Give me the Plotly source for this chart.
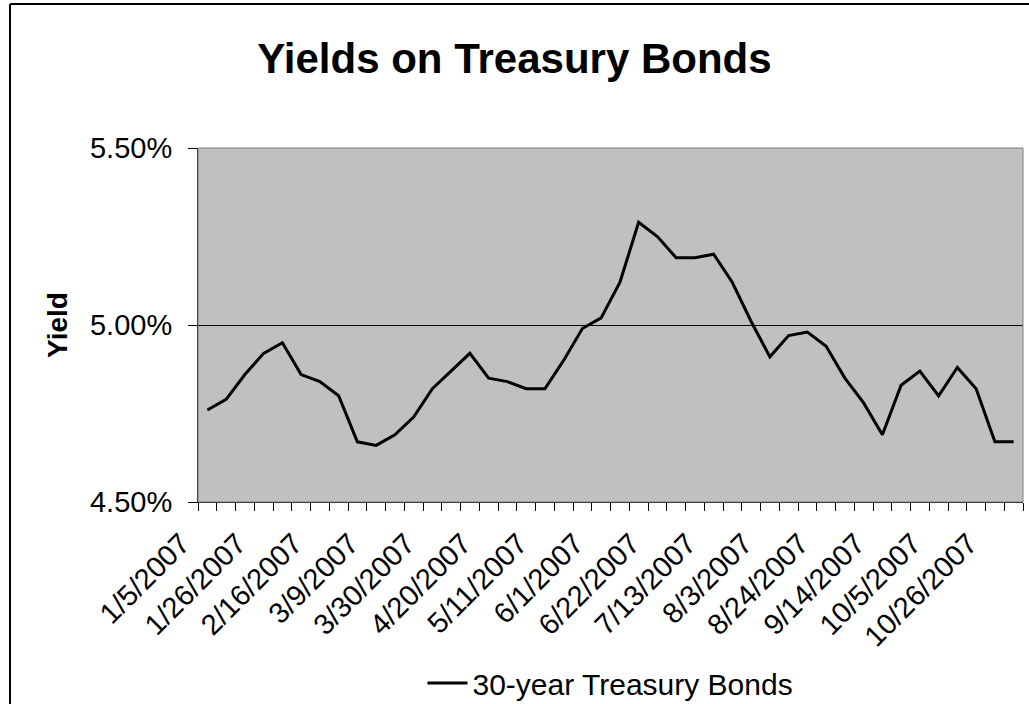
import plotly.graph_objects as go
import pandas as pd

# Weekly dates (Fridays) and 30-year Treasury yields (%)
dates = list(pd.date_range("2007-01-05", periods=44, freq="7D"))
yields = [4.76, 4.79, 4.86, 4.92, 4.95, 4.86, 4.84, 4.80, 4.67, 4.66,
          4.69, 4.74, 4.82, 4.87, 4.92, 4.85, 4.84, 4.82, 4.82, 4.90,
          4.99, 5.02, 5.12, 5.29, 5.25, 5.19, 5.19, 5.20, 5.12, 5.01,
          4.91, 4.97, 4.98, 4.94, 4.85, 4.78, 4.69, 4.83, 4.87, 4.80,
          4.88, 4.82, 4.67, 4.67]
label_dates = dates[::3]
label_text = [f"{d.month}/{d.day}/{d.year}" for d in label_dates]
y_ticks = [4.5, 5.0, 5.5]
y_tick_text = [f"{v:.2f}%" for v in y_ticks]

FONT = "Liberation Sans, Arial, sans-serif"
W, H = 1029, 704
L, R, T, B = 198, 6, 148, 202
pw, ph = W - L - R, H - T - B

half_week = pd.Timedelta(days=3.5)

fig = go.Figure()
fig.add_trace(go.Scatter(
    x=dates, y=yields, mode="lines", name="30-year Treasury Bonds",
    line=dict(color="black", width=3),
))

fig.update_layout(
    width=W, height=H,
    margin=dict(l=L, r=R, t=T, b=B, pad=0, autoexpand=False),
    paper_bgcolor="white",
    plot_bgcolor="#C0C0C0",
    font=dict(family=FONT, color="black", size=29),
    title=dict(text="<b>Yields on Treasury Bonds</b>", x=0.5, xanchor="center",
               xref="container", y=1 - 58 / H, yanchor="middle",
               font=dict(size=42, family=FONT, color="black")),
    showlegend=True,
    legend=dict(x=0.5, xanchor="center", y=(-(683 - (T + ph))) / ph, yanchor="middle",
                orientation="h", font=dict(size=30, family=FONT),
                bgcolor="rgba(0,0,0,0)", itemwidth=40),
    xaxis=dict(
        type="date",
        range=[dates[0] - half_week, dates[-1] + half_week],
        tickvals=label_dates, ticktext=label_text,
        tickangle=-45, ticks="", showgrid=False,
        showline=True, linecolor="black", linewidth=1,
        tickfont=dict(size=29, family=FONT),
        ticklabelstandoff=12, ticklabelshift=-26,
        minor=dict(tick0=dates[0] - half_week, dtick=7 * 86400000,
                   ticks="outside", ticklen=8, tickcolor="black", showgrid=False),
        zeroline=False,
    ),
    yaxis=dict(
        range=[4.5, 5.5], tickvals=y_ticks, ticktext=y_tick_text,
        ticks="outside", ticklen=9, tickcolor="black",
        showline=True, linecolor="black", linewidth=1,
        showgrid=True, gridcolor="black", gridwidth=1,
        zeroline=False, ticklabelstandoff=10,
        title=dict(text="<b>Yield</b>", font=dict(size=28, family=FONT), standoff=14),
        tickfont=dict(size=29, family=FONT),
    ),
)

# plot-area border (gray)
fig.add_shape(type="rect", xref="x domain", yref="y domain", x0=0, x1=1, y0=0, y1=1,
              line=dict(color="#808080", width=1), layer="above")
# outer chart border (only left and top visible)
fig.add_shape(type="line", xref="paper", yref="paper",
              x0=(10 - L) / pw, x1=(10 - L) / pw, y0=(T + ph - H - 20) / ph, y1=(T + ph - 4) / ph,
              line=dict(color="black", width=2))
fig.add_shape(type="line", xref="paper", yref="paper",
              x0=(10 - L) / pw, x1=(W + 20 - L) / pw, y0=(T + ph - 4) / ph, y1=(T + ph - 4) / ph,
              line=dict(color="black", width=2))

fig.write_html("out.html", config={"displayModeBar": False},
               post_script="document.body.style.margin='0';")
